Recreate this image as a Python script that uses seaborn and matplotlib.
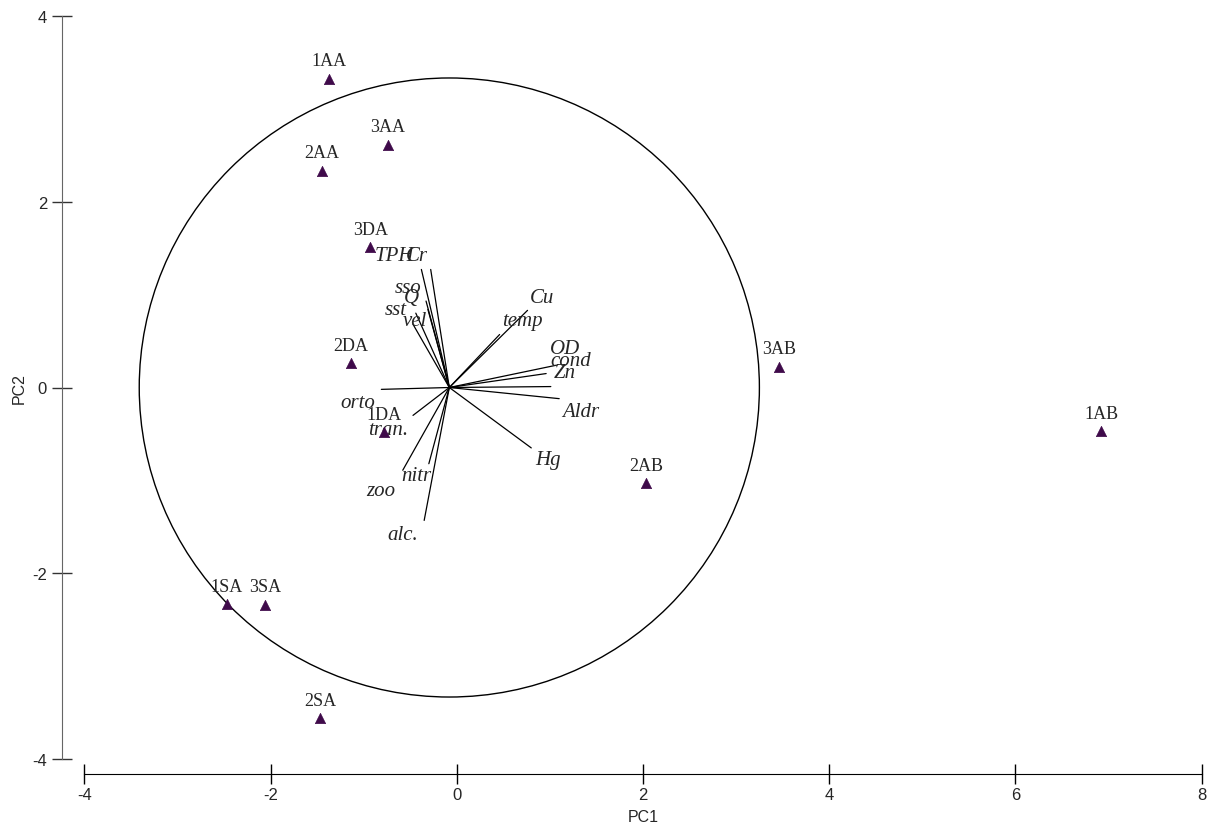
import numpy as np
import pandas as pd
import matplotlib
matplotlib.use('Agg')
import matplotlib.pyplot as plt
from matplotlib.patches import Circle
import seaborn as sns

# sample scores (PC1, PC2)
samples = ['1AA', '2AA', '3AA', '1DA', '2DA', '3DA', '1AB', '2AB', '3AB', '1SA', '2SA', '3SA']
pc1 = [-1.37, -1.45, -0.74, -0.78, -1.14, -0.93, 6.92, 2.03, 3.46, -2.47, -1.47, -2.06]
pc2 = [3.32, 2.33, 2.61, -0.48, 0.26, 1.51, -0.47, -1.03, 0.22, -2.33, -3.56, -2.34]

# variable loadings (end of each vector) and where their labels sit
variables = ['orto', 'OD', 'cond', 'Zn', 'Aldr', 'Hg', 'Cu', 'temp', 'TPH', 'Cr',
             'sso', 'Q', 'sst', 'vel', 'tran.', 'nitr', 'zoo', 'alc.']
vec_x = [-0.81, 1.07, 0.96, 1.01, 1.10, 0.80, 0.76, 0.46, -0.38, -0.28,
         -0.33, -0.31, -0.44, -0.47, -0.47, -0.30, -0.58, -0.35]
vec_y = [-0.02, 0.24, 0.15, 0.01, -0.12, -0.65, 0.83, 0.57, 1.27, 1.27,
         0.93, 0.84, 0.80, 0.68, -0.30, -0.82, -0.89, -1.43]
lab_x = [-1.06, 1.16, 1.22, 1.16, 1.33, 0.98, 0.92, 0.71, -0.67, -0.43,
         -0.52, -0.49, -0.65, -0.45, -0.74, -0.43, -0.82, -0.58]
lab_y = [-0.16, 0.42, 0.29, 0.16, -0.26, -0.77, 0.97, 0.72, 1.42, 1.42,
         1.08, 0.97, 0.84, 0.72, -0.45, -0.95, -1.11, -1.58]

# correlation circle
circle_center = (-0.08, 0.0)
circle_radius = 3.33

scores = pd.DataFrame({'sample': samples, 'PC1': pc1, 'PC2': pc2})

sns.set_style('white')
plt.rcParams['font.family'] = ['Liberation Sans', 'DejaVu Sans']
plt.rcParams['axes.unicode_minus'] = False

W, H = 1218, 829
fig = plt.figure(figsize=(W / 100, H / 100), dpi=100)
ax = fig.add_axes([84.3 / W, (H - 760.3) / H, 1117.4 / W, 743.6 / H])
ax.set_xlim(-4, 8)
ax.set_ylim(-4, 4)

ax.add_patch(Circle(circle_center, circle_radius, fill=False, color='black', lw=1.0))

ox, oy = circle_center
for vx, vy in zip(vec_x, vec_y):
    ax.plot([ox, vx], [oy, vy], color='black', lw=0.9)
for name, tx, ty in zip(variables, lab_x, lab_y):
    ax.text(tx, ty, name, family=['Liberation Serif'], style='italic',
            fontsize=15, ha='center', va='center')

sns.scatterplot(data=scores, x='PC1', y='PC2', marker='^', s=55,
                color='#3f0a4a', edgecolor='#3f0a4a', linewidth=0.5,
                ax=ax, clip_on=False, zorder=3)
for _, r in scores.iterrows():
    ax.annotate(r['sample'], (r['PC1'], r['PC2']), xytext=(0, 13),
                textcoords='offset points', ha='center', va='center',
                family=['Liberation Serif'], fontsize=13)

sns.despine(ax=ax)
ax.spines['left'].set_position(('outward', 16.3))
ax.spines['bottom'].set_position(('outward', 10.6))
ax.spines['left'].set_color('#666666')
ax.spines['bottom'].set_color('black')
ax.spines['left'].set_bounds(-4, 4)
ax.spines['bottom'].set_bounds(-4, 8)

ax.set_xticks([-4, -2, 0, 2, 4, 6, 8])
ax.set_yticks([-4, -2, 0, 2, 4])
ax.tick_params(axis='x', bottom=True, direction='inout', length=14.5, width=1,
               color='black', labelsize=12, pad=2)
ax.tick_params(axis='y', left=True, direction='inout', length=15, width=1,
               color='#333333', labelsize=12, pad=3)
ax.set_xlabel('PC1', fontsize=11.5, labelpad=5)
ax.set_ylabel('PC2', fontsize=11.5, labelpad=4)

fig.savefig('out.png', dpi=100)
plt.close(fig)
